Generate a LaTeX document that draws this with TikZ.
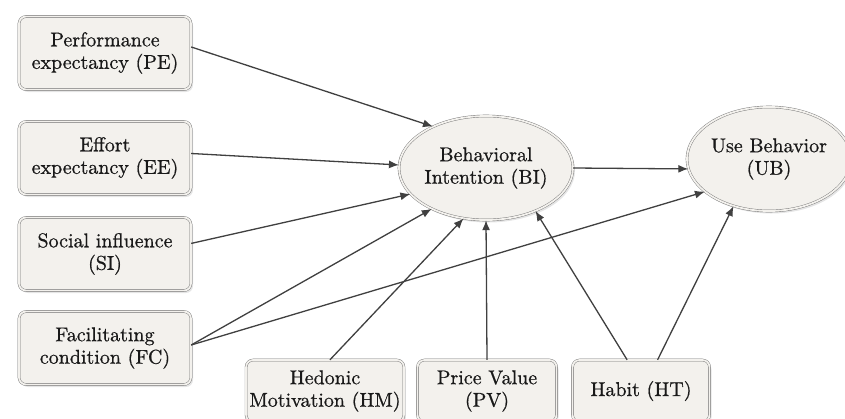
\documentclass[tikz,border=0pt]{standalone}
\usepackage{fontspec}
\setmainfont{lmroman10-regular.otf}[FakeBold=0.7]
\usepackage{tikz}
\usetikzlibrary{arrows.meta}
\usetikzlibrary{shapes.geometric}
\usetikzlibrary{shadows}
\definecolor{boxfill}{HTML}{F3F1ED}
\newcommand{\fnode}[3]{\node(#1)[factor] at #2 {#3}}
\newcommand{\bnode}[4]{\node(#1)[factor,minimum width=#3,minimum height=62pt] at #2 {#4}}
\newcommand{\cnode}[4]{\node(#1)[construct,minimum width=#3] at #2 {#4}}

\begin{document}
\begin{tikzpicture}[
        x=1pt,y=-1pt,
        every node/.style={font=\fontsize{20}{22.5}\selectfont,align=center,text=black!90},
        factor/.style={rectangle,minimum width=172pt,minimum height=73pt,
                       rounded corners=2.5mm,draw=black!55,fill=boxfill,
                       double=boxfill,double distance=1.8pt,
                       drop shadow={opacity=0.2,shadow xshift=2pt,shadow yshift=-2.5pt}},
        construct/.style={ellipse,inner sep=0pt,minimum height=104pt,draw=black!55,fill=boxfill,
                       double=boxfill,double distance=1.8pt,
                       drop shadow={opacity=0.2,shadow xshift=2pt,shadow yshift=-2.5pt}},
        conn/.style={-{Latex[length=10pt,width=8pt]},line width=1.3pt,draw=black!75}
      ]
      \useasboundingbox[fill=white] (0,0) rectangle (845,418);
      \fnode{PE}{(105,53)}{Performance\\expectancy (PE)};
      \fnode{EE}{(105,158)}{Effort\\expectancy (EE)};
      \fnode{SI}{(105,254)}{Social influence\\(SI)};
      \fnode{FC}{(105,348)}{Facilitating\\condition (FC)};
      \bnode{HM}{(325,391)}{154pt}{Hedonic\\Motivation (HM)};
      \bnode{PV}{(487,391)}{139pt}{Price Value\\(PV)};
      \bnode{HT}{(641,391)}{137pt}{Habit (HT)};
      \cnode{BI}{(486,168)}{168pt}{Behavioral\\Intention (BI)};
      \cnode{UB}{(769,159)}{160pt}{Use Behavior\\(UB)};

      \draw[conn] (PE.4) -- (BI.142);
      \draw[conn] (EE.3) -- (BI.178);
      \draw[conn] (SI.7) -- (BI.199);
      \draw[conn] (FC.2) -- (BI.217);
      \draw[conn] (FC.2) -- (UB.207);
      \draw[conn] (HM.81) -- (BI.246);
      \draw[conn] (PV.north) -- (BI.south);
      \draw[conn] (HT.114) -- (BI.319);
      \draw[conn] (HT.62) -- (UB.233);
      \draw[conn] (BI.east) -- (UB.187);
    \end{tikzpicture}
\end{document}
